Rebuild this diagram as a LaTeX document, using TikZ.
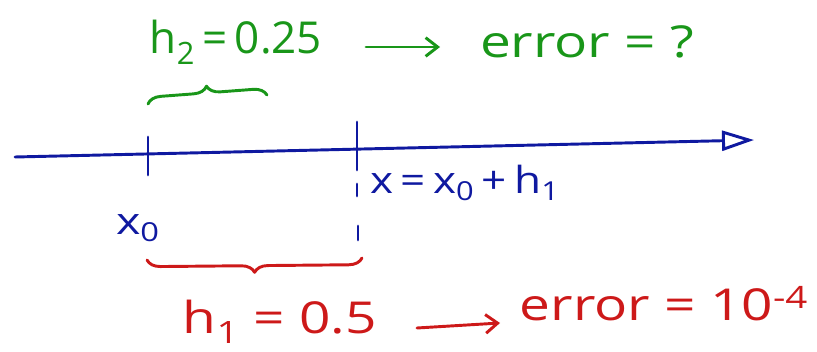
\documentclass[tikz,border=0pt]{standalone}
\usepackage{fontspec}
\setmainfont{Open Sans}
\usetikzlibrary{decorations.pathreplacing,arrows.meta}
\definecolor{hblue}{RGB}{15,25,160}
\definecolor{hgreen}{RGB}{25,150,25}
\definecolor{hred}{RGB}{205,25,25}
\newcommand{\wide}[1]{\scalebox{1.25}[1]{#1}}
\begin{document}
\begin{tikzpicture}[x=0.75pt,y=-0.75pt, line width=2.2pt, line cap=round, line join=round,
  bigtxt/.style={inner sep=0pt, font=\fontsize{33}{36}\selectfont},
  midtxt/.style={inner sep=0pt, font=\fontsize{28}{32}\selectfont}]
\useasboundingbox (0,0) rectangle (817,352);
% axis
\coordinate (L) at (15,157);
\coordinate (R) at (754,140);
\draw[hblue, -{Triangle[open,length=24pt,width=15pt,line width=2.2pt]}] (L) -- (R);
% ticks
\coordinate (t0a) at (148,137);
\coordinate (t0b) at (148,175);
\draw[hblue] (t0a) -- (t0b);
\coordinate (t1a) at (357,122);
\coordinate (t1b) at (357,170);
\draw[hblue] (t1a) -- (t1b);
\coordinate (d1a) at (357,184);
\coordinate (d1b) at (357,196);
\coordinate (d2a) at (358,226);
\coordinate (d2b) at (358,240);
\draw[hblue] (d1a) -- (d1b);
\draw[hblue] (d2a) -- (d2b);
% blue labels
\node[midtxt, text=hblue] (x0) at (138,228) {\wide{x\textsubscript{0}}};
\node[midtxt, text=hblue] (xx) at (465,183) {\scalebox{1.18}[1]{x\,=\,x\textsubscript{0}\,+\,h\textsubscript{1}}};
% red brace
\coordinate (rb1) at (362,258);
\coordinate (rb2) at (147,260);
\draw[hred, decorate, decoration={brace, amplitude=10pt}] (rb1) -- (rb2);
% green brace
\coordinate (gb1) at (148,104);
\coordinate (gb2) at (267,95);
\draw[hgreen, decorate, decoration={brace, amplitude=10pt}] (gb1) -- (gb2);
% green row
\node[bigtxt, text=hgreen] (h2) at (236,42) {h\textsubscript{2}\,=\,0.25};
\coordinate (ga1) at (366,47);
\coordinate (ga2) at (440,47);
\draw[hgreen, -{Straight Barb[length=9pt,width=14pt]}] (ga1) -- (ga2);
\node[bigtxt, text=hgreen] (e2) at (587,42) {\wide{error = ?}};
% red row
\node[bigtxt, text=hred] (h1) at (280,322) {\wide{h\textsubscript{1} = 0.5}};
\coordinate (ra1) at (417,328);
\coordinate (ra2) at (500,323);
\draw[hred, -{Straight Barb[length=9pt,width=14pt]}] (ra1) -- (ra2);
\node[bigtxt, text=hred] (e1) at (664,304) {\wide{error = 10\textsuperscript{-4}}};
\end{tikzpicture}
\end{document}
